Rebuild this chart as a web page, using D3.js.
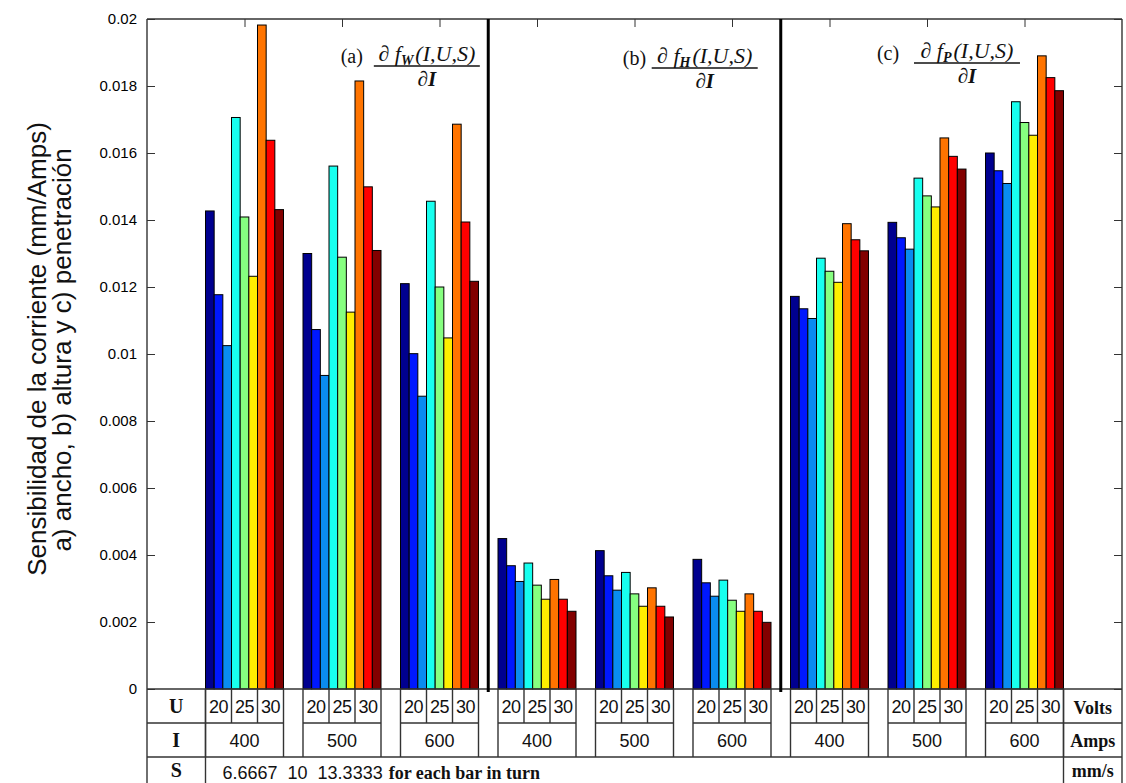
<!DOCTYPE html>
<html>
<head>
<meta charset="utf-8">
<script src="https://cdn.jsdelivr.net/npm/d3@7"></script>
<style>
  body { margin: 0; background: #fff; }
  svg { display: block; }
</style>
</head>
<body>
<svg id="chart" width="1126" height="783"></svg>
<script>
// Welding current levels (A) for the nine bar groups, three per panel
const currentLevels = ["400", "500", "600", "400", "500", "600", "400", "500", "600"];
// Arc voltage levels (V), each spanning three bars of a group
const voltLevels = ["20", "25", "30"];
// Travel speeds (mm/s) cycled for each bar in turn
const speedLevels = ["6.6667", "10", "13.3333"];

const yTickValues = [0, 0.002, 0.004, 0.006, 0.008, 0.01, 0.012, 0.014, 0.016, 0.018, 0.02];
const yTickLabels = ["0", "0.002", "0.004", "0.006", "0.008", "0.01", "0.012", "0.014", "0.016", "0.018", "0.02"];

// One colour per (U, S) combination
const barColors = ["#00008f", "#0018ff", "#0a8cf0", "#18ffef", "#86ff80", "#ffee00", "#ff7400", "#ff0000", "#820000"];

// ∂fW/∂I : bead width sensitivity, rows = I 400/500/600, columns = U×S combinations
const widthSens = [
  [0.01427, 0.01177, 0.01025, 0.01706, 0.01409, 0.01232, 0.01982, 0.01638, 0.01431],
  [0.01300, 0.01073, 0.00936, 0.01561, 0.01289, 0.01125, 0.01815, 0.01499, 0.01309],
  [0.01210, 0.01001, 0.00874, 0.01456, 0.01200, 0.01048, 0.01686, 0.01394, 0.01217]
];
// ∂fH/∂I : bead height sensitivity
const heightSens = [
  [0.00449, 0.00368, 0.00321, 0.00376, 0.00310, 0.00268, 0.00327, 0.00268, 0.00232],
  [0.00413, 0.00338, 0.00295, 0.00348, 0.00284, 0.00247, 0.00302, 0.00247, 0.00215],
  [0.00387, 0.00317, 0.00277, 0.00325, 0.00265, 0.00232, 0.00284, 0.00232, 0.00199]
];
// ∂fP/∂I : penetration sensitivity
const penetrationSens = [
  [0.01172, 0.01135, 0.01106, 0.01286, 0.01247, 0.01214, 0.01389, 0.01341, 0.01308],
  [0.01393, 0.01347, 0.01313, 0.01525, 0.01472, 0.01439, 0.01645, 0.01590, 0.01552],
  [0.01600, 0.01547, 0.01509, 0.01753, 0.01691, 0.01653, 0.01890, 0.01825, 0.01786]
];

// Panel headings: tag, output subscript
const panelTags = ["(a)", "(b)", "(c)"];
const panelSubs = ["W", "H", "P"];

// ---------- layout ----------
const svg = d3.select("#chart");
const M = { left: 147, right: 1122, top: 19, base: 689 };
const rowU = 723, rowI = 757, rowEnd = 800;
const lineColor = "#333";

const x = d3.scaleLinear().domain([0, 10]).range([M.left, M.right]);
const y = d3.scaleLinear().domain([0, 0.02]).range([M.base, M.top]);
const unit = x(1) - x(0);
const half = 0.4 * unit;
const inner = d3.scaleBand().domain(d3.range(9)).range([-half, half]).padding(0);
const cellScale = d3.scaleBand().domain(d3.range(3)).range([-half, half]).padding(0);

const groups = [...widthSens, ...heightSens, ...penetrationSens];
const bars = groups.flatMap((vals, g) => vals.map((v, k) => ({ g, k, v })));

// bars
svg.append("g").selectAll("rect").data(bars).join("rect")
  .attr("x", d => x(d.g + 1) + inner(d.k))
  .attr("y", d => y(d.v))
  .attr("width", inner.bandwidth())
  .attr("height", d => y(0) - y(d.v))
  .attr("fill", d => barColors[d.k])
  .attr("stroke", "#000")
  .attr("stroke-width", 1);

// axes with inward ticks
const axisL = svg.append("g").attr("transform", `translate(${M.left},0)`)
  .call(d3.axisLeft(y).tickValues(yTickValues).tickFormat((d, i) => yTickLabels[i])
    .tickSizeInner(-8).tickSizeOuter(0).tickPadding(10));
axisL.select(".domain").remove();
axisL.selectAll("line").attr("stroke", lineColor);
axisL.selectAll("text").attr("font-family", "Liberation Sans, Arial, sans-serif")
  .attr("font-size", 15).attr("fill", "#000");

const axisR = svg.append("g").attr("transform", `translate(${M.right},0)`)
  .call(d3.axisRight(y).tickValues(yTickValues).tickFormat("").tickSizeInner(-8).tickSizeOuter(0));
axisR.select(".domain").remove();
axisR.selectAll("line").attr("stroke", lineColor);

const axisT = svg.append("g").attr("transform", `translate(0,${M.top})`)
  .call(d3.axisTop(x).tickValues(d3.range(1, 10)).tickFormat("").tickSizeInner(-8).tickSizeOuter(0));
axisT.select(".domain").remove();
axisT.selectAll("line").attr("stroke", lineColor);

// frame
const frame = svg.append("g").attr("stroke", lineColor).attr("stroke-width", 1.4);
frame.append("line").attr("x1", M.left).attr("x2", M.right).attr("y1", M.top).attr("y2", M.top);
frame.append("line").attr("x1", M.left).attr("x2", M.left).attr("y1", M.top).attr("y2", rowEnd);
frame.append("line").attr("x1", M.right).attr("x2", M.right).attr("y1", M.top).attr("y2", rowEnd);
frame.append("line").attr("x1", M.left).attr("x2", M.right).attr("y1", M.base).attr("y2", M.base);
frame.append("line").attr("x1", M.left).attr("x2", M.right).attr("y1", rowI).attr("y2", rowI);

// panel separators
svg.append("g").selectAll("line").data([3.5, 6.5]).join("line")
  .attr("x1", d => x(d)).attr("x2", d => x(d))
  .attr("y1", M.top).attr("y2", M.base + 3)
  .attr("stroke", "#000").attr("stroke-width", 3);

// ---------- parameter table ----------
const labelColL = x(1) - half;   // right edge of the row-name column
const labelColR = x(9) + half;   // left edge of the unit column
const table = svg.append("g").attr("stroke", lineColor).attr("stroke-width", 1.4);
table.append("line").attr("x1", labelColL).attr("x2", labelColL).attr("y1", M.base).attr("y2", rowEnd);
table.append("line").attr("x1", labelColR).attr("x2", labelColR).attr("y1", M.base).attr("y2", rowEnd);
table.append("line").attr("x1", M.left).attr("x2", labelColL).attr("y1", rowU).attr("y2", rowU);
table.append("line").attr("x1", labelColR).attr("x2", M.right).attr("y1", rowU).attr("y2", rowU);

currentLevels.forEach((lvl, g) => {
  const c = x(g + 1);
  const gg = table.append("g");
  gg.append("line").attr("x1", c - half).attr("x2", c + half).attr("y1", rowU).attr("y2", rowU);
  gg.append("line").attr("x1", c - half).attr("x2", c - half).attr("y1", M.base).attr("y2", rowI);
  gg.append("line").attr("x1", c + half).attr("x2", c + half).attr("y1", M.base).attr("y2", rowI);
  [1, 2].forEach(j => {
    const xd = c + cellScale(j);
    gg.append("line").attr("x1", xd).attr("x2", xd).attr("y1", M.base).attr("y2", rowU);
  });
});

const numFont = "Liberation Sans, Arial, sans-serif";
const serifFont = "Liberation Serif, Times New Roman, serif";
const tText = svg.append("g").attr("fill", "#111");

currentLevels.forEach((lvl, g) => {
  const c = x(g + 1);
  voltLevels.forEach((v, j) => {
    tText.append("text").attr("x", c + cellScale(j) + cellScale.bandwidth() / 2).attr("y", 713)
      .attr("text-anchor", "middle").attr("font-family", numFont).attr("font-size", 18)
      .attr("letter-spacing", -0.5).text(v);
  });
  tText.append("text").attr("x", c).attr("y", 747)
    .attr("text-anchor", "middle").attr("font-family", numFont).attr("font-size", 18)
    .text(lvl);
});

const rowNames = [["U", 713], ["I", 747], ["S", 777]];
rowNames.forEach(([t, yy]) => {
  tText.append("text").attr("x", (M.left + labelColL) / 2).attr("y", yy)
    .attr("text-anchor", "middle").attr("font-family", serifFont).attr("font-weight", "bold")
    .attr("font-size", 20).text(t);
});
const unitNames = [["Volts", 714], ["Amps", 747], ["mm/s", 777]];
unitNames.forEach(([t, yy]) => {
  tText.append("text").attr("x", (labelColR + M.right) / 2).attr("y", yy)
    .attr("text-anchor", "middle").attr("font-family", serifFont).attr("font-weight", "bold")
    .attr("font-size", 18).text(t);
});

const sRow = tText.append("text").attr("x", labelColL + 17).attr("y", 779)
  .attr("font-size", 18);
sRow.append("tspan").attr("font-family", numFont).text(speedLevels[0]);
sRow.append("tspan").attr("font-family", numFont).attr("dx", 10).text(speedLevels[1]);
sRow.append("tspan").attr("font-family", numFont).attr("dx", 10).text(speedLevels[2]);
sRow.append("tspan").attr("font-family", serifFont).attr("font-weight", "bold").attr("dx", 6)
  .text("for each bar in turn");

// ---------- panel headings: (tag)  ∂f_X(I,U,S) / ∂I ----------
const headPos = [
  { tag: 2.10, frac: 2.87, line: 66 },
  { tag: 5.00, frac: 5.72, line: 68 },
  { tag: 7.60, frac: 8.41, line: 63 }
];
panelTags.forEach((tag, i) => {
  const p = headPos[i];
  const h = svg.append("g").attr("fill", "#111").attr("font-family", serifFont);
  h.append("text").attr("x", x(p.tag)).attr("y", p.line - 3).attr("text-anchor", "middle")
    .attr("font-size", 20).text(tag);
  const num = h.append("text").attr("x", x(p.frac)).attr("y", p.line - 5).attr("text-anchor", "middle")
    .attr("font-size", 22).attr("font-style", "italic");
  num.append("tspan").text("∂ f");
  num.append("tspan").attr("font-size", 14).attr("font-weight", "bold").attr("dy", 4).text(panelSubs[i]);
  num.append("tspan").attr("dy", -4).attr("dx", 2).text("(I,U,S)");
  h.append("line").attr("x1", x(p.frac) - 53).attr("x2", x(p.frac) + 53)
    .attr("y1", p.line).attr("y2", p.line).attr("stroke", "#111").attr("stroke-width", 1.6);
  h.append("text").attr("x", x(p.frac)).attr("y", p.line + 20).attr("text-anchor", "middle")
    .attr("font-size", 21).attr("font-style", "italic").attr("font-weight", "bold").text("∂I");
});

// ---------- y-axis title ----------
const yTitle = ["Sensibilidad de la corriente (mm/Amps)", "a) ancho, b) altura y c) penetración"];
const yTitlePos = [[37, 349], [62, 350]];
yTitle.forEach((t, i) => {
  svg.append("text")
    .attr("transform", `translate(${yTitlePos[i][0]},${yTitlePos[i][1]}) rotate(-90)`)
    .attr("text-anchor", "middle").attr("dy", "0.35em")
    .attr("font-family", "Liberation Sans, Arial, sans-serif").attr("font-size", 26)
    .attr("fill", "#111").text(t);
});
</script>
</body>
</html>
